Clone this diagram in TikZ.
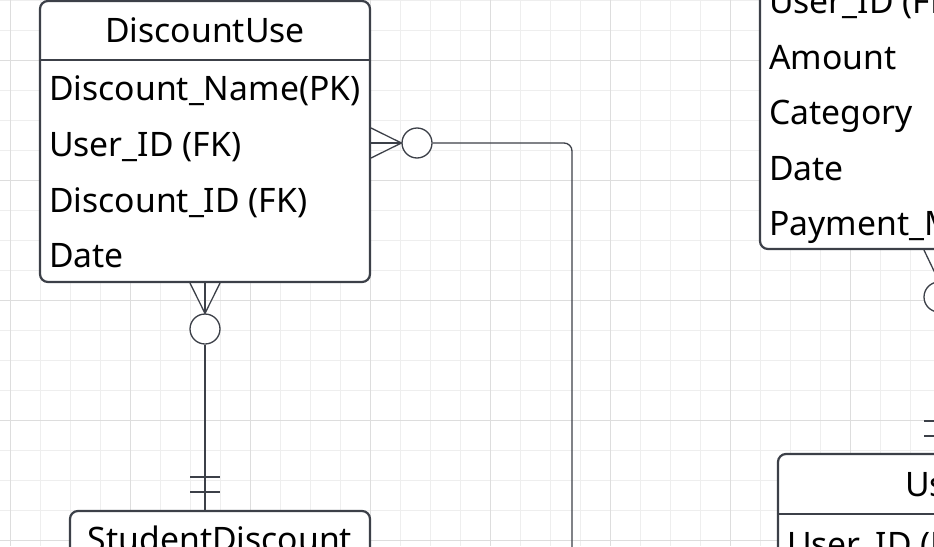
\documentclass[tikz,border=0pt]{standalone}
\usepackage{fontspec}
\setmainfont{Noto Sans}
\usetikzlibrary{calc}
\definecolor{gridminor}{HTML}{EEEEEE}
\definecolor{gridmajor}{HTML}{DDDDDD}
\definecolor{ink}{HTML}{3C4048}
\begin{document}
\begin{tikzpicture}[x=1pt,y=-1pt,
	entity/.style={draw=ink, line width=2.2pt, rounded corners=8pt, fill=white, inner sep=0pt},
	field/.style={anchor=base west, inner sep=0pt, font=\fontsize{33.7}{40}\selectfont},
	title/.style={anchor=base, inner sep=0pt, font=\fontsize{33.7}{40}\selectfont},
	rel/.style={draw=ink, line width=1.3pt},
	ring/.style={circle, draw=ink, line width=1.3pt, fill=white, minimum size=30pt, inner sep=0pt}]
	
	\useasboundingbox (0,0) rectangle (934,546);
	\begin{scope}
	\clip (0,0) rectangle (934,546);
	\fill[white] (0,0) rectangle (934,546);
	
	% Grid
	\foreach \gx in {10,40,...,940} \draw[gridminor, line width=0.8pt] (\gx,0) -- (\gx,546);
	\foreach \gy in {0,30,...,546} \draw[gridminor, line width=0.8pt] (0,\gy) -- (934,\gy);
	\foreach \gx in {10,130,...,940} \draw[gridmajor, line width=1pt] (\gx,0) -- (\gx,546);
	\foreach \gy in {60,180,...,546} \draw[gridmajor, line width=1pt] (0,\gy) -- (934,\gy);
	
	% Entity
	
	\node[entity, minimum width=330pt, minimum height=281pt]
	(du) at (205,141.5) {};
	\draw[ink, line width=2.2pt] (du.west |- 0,60) -- (du.east |- 0,60);
	\node[title] (duT) at (205,42) {DiscountUse};
	\node[field] (du1) at (49,100) {Discount\_Name(PK)};
	\node[field] (du2) at (49,156) {User\_ID (FK)};
	\node[field] (du3) at (49,212) {Discount\_ID (FK)};
	\node[field] (du4) at (49,267) {Date};
	
	\node[entity, minimum width=300pt, minimum height=200pt]
	(sd) at (220,611) {};
	\node[title] (sdT) at (220,551) {StudentDiscount};
	
	\node[entity, minimum width=330pt, minimum height=300pt]
	(ex) at (925,99) {};
	\node[field] (ex1) at (769,13) {User\_ID (FK)};
	\node[field] (ex2) at (769,69) {Amount};
	\node[field] (ex3) at (769,124) {Category};
	\node[field] (ex4) at (769,180) {Date};
	\node[field] (ex5) at (769,235) {Payment\_Method};
	
	\node[entity, minimum width=330pt, minimum height=200pt]
	(us) at (943,554) {};
	\draw[ink, line width=2.2pt] (us.west |- 0,514) -- (us.east |- 0,514);
	\node[field] (usT) at (905,496) {User};
	\node[field] (us1) at (787,556) {User\_ID (PK)};
	
	% EDGE
	
	% DiscountUse -- User
	\node[ring] (c1) at (417,143) {};
	\coordinate (t1) at (572,600);
	\draw[rel] (du.east |- c1) -- (c1.west);
	\draw[rel] ($(du.east |- c1)+(0,-15)$) -- (c1.west) -- ($(du.east |- c1)+(0,15)$);
	\draw[rel, rounded corners=8pt] (c1.east) -| (t1);
	
	% DiscountUse -- StudentDiscount
	\node[ring] (c2) at (205,329) {};
	\draw[rel] (du.south -| c2) -- (c2.north);
	\draw[rel] ($(du.south -| c2)+(-15,0)$) -- (c2.north) -- ($(du.south -| c2)+(15,0)$);
	\draw[rel] (c2.south) -- (sd.north -| c2);
	\draw[rel] ($(sd.north -| c2)+(-15,-33)$) -- ++(30,0);
	\draw[rel] ($(sd.north -| c2)+(-15,-18)$) -- ++(30,0);
	
	% Expense -- User
	\node[ring] (c3) at (939,297) {};
	\draw[rel] (ex.south -| c3) -- (c3.north);
	\draw[rel] ($(ex.south -| c3)+(-15,0)$) -- (c3.north) -- ($(ex.south -| c3)+(15,0)$);
	\draw[rel] (c3.south) -- (us.north -| c3);
	\draw[rel] ($(us.north -| c3)+(-15,-32)$) -- ++(30,0);
	\draw[rel] ($(us.north -| c3)+(-15,-17)$) -- ++(30,0);
	
	\end{scope}
	
\end{tikzpicture}
\end{document}
